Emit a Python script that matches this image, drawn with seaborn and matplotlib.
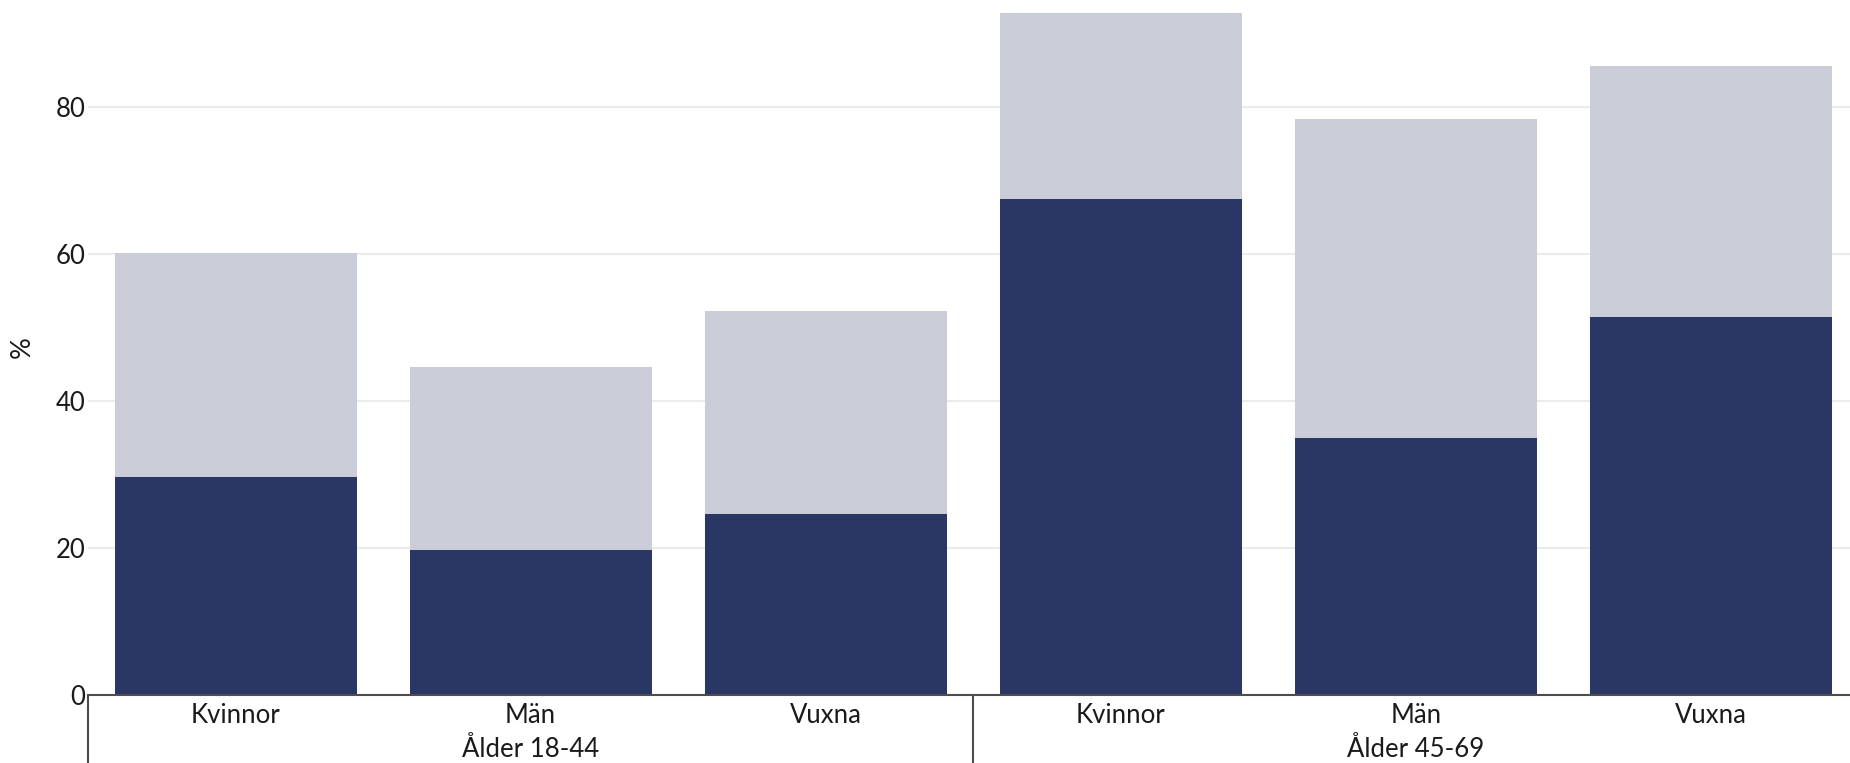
import numpy as np
import pandas as pd
import matplotlib
matplotlib.use("Agg")
import matplotlib.pyplot as plt
import seaborn as sns

# ---------------------------------------------------------------------------
# Data
# ---------------------------------------------------------------------------
GROUPS = ["Ålder 18-44", "Ålder 45-69"]
SEXES = ["Kvinnor", "Män", "Vuxna"]
upper_pct = [60.2, 44.6, 52.2, 92.9, 78.4, 85.6]   # light bars (total)
lower_pct = [29.6, 19.7, 24.6, 67.5, 35.0, 51.4]   # dark bars

DARK = "#2a3764"
LIGHT = "#caccd8"
GRID = "#ebebeb"
AXIS = "#4d4d4d"
TEXT = "#1a1a1a"
FS = 18.5

sns.set_theme(style="white")
plt.rcParams["font.family"] = ["Lato", "DejaVu Sans"]

df = pd.DataFrame({
    "slot": [f"{s} {g}" for g in GROUPS for s in SEXES],
    "sex": [s for g in GROUPS for s in SEXES],
    "upper": upper_pct,
    "lower": lower_pct,
})

fig = plt.figure(figsize=(18.5, 7.63), dpi=100)
W, H = 1850, 763
left, right = 88 / W, 1858.6 / W
bottom, top = (H - 694.7) / H, 1.0
ax = fig.add_axes([left, bottom, right - left, top - bottom])

sns.barplot(data=df, x="slot", y="upper", color=LIGHT, width=0.82, linewidth=0,
            errorbar=None, saturation=1, ax=ax, zorder=2)
sns.barplot(data=df, x="slot", y="lower", color=DARK, width=0.82, linewidth=0,
            errorbar=None, saturation=1, ax=ax, zorder=3)

ax.set_xlim(-0.5, len(df) - 0.5)
ax.set_ylim(0, 694.7 / 7.3425)
ax.set_yticks([0, 20, 40, 60, 80])
ax.yaxis.grid(True, color=GRID, linewidth=1.5, zorder=0)
ax.set_axisbelow(True)

for side in ["top", "right", "left"]:
    ax.spines[side].set_visible(False)
ax.spines["bottom"].set_color(AXIS)
ax.spines["bottom"].set_linewidth(1.5)
ax.spines["bottom"].set_zorder(4)

ax.tick_params(axis="y", length=0, pad=2, labelsize=FS, labelcolor=TEXT)
ax.tick_params(axis="x", length=0, pad=6, labelsize=FS, labelcolor=TEXT)
ax.set_xticks(range(len(df)))
ax.set_xticklabels(df["sex"])
ax.set_xlabel("")
ax.set_ylabel("%", fontsize=FS + 1, color=TEXT, labelpad=15)

# group separators and group labels below the axis
trans = ax.get_xaxis_transform()
drop = -(H - 694.7 + 5) / 694.7
for i, g in enumerate(GROUPS):
    x0 = i * len(SEXES) - 0.5
    ax.plot([x0, x0], [0, drop], color=AXIS, linewidth=1.5, transform=trans, clip_on=False)
    ax.text(i * len(SEXES) + 1, -0.0796, g, transform=trans, ha="center", va="center",
            fontsize=FS, color=TEXT)

fig.savefig("out.png", dpi=100)
